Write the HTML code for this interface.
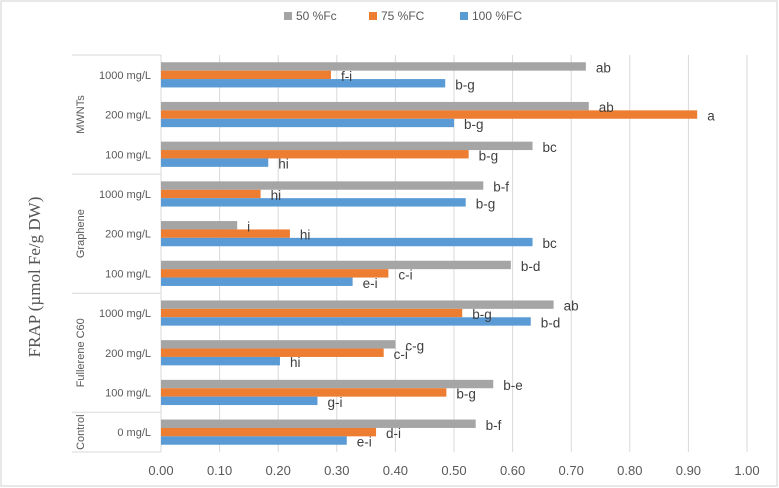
<!DOCTYPE html>
<html><head><meta charset="utf-8"><style>
body{margin:0;background:#fff}
svg{display:block;font-family:"Liberation Sans",sans-serif}
</style></head><body>
<svg id="chart" width="779" height="488">
<rect x="1" y="1" width="776" height="485" fill="#fff" stroke="#d0d0d0"/>
<text x="40" y="277" transform="rotate(-90 40 277)" text-anchor="middle" font-family="Liberation Serif,serif" font-size="17" fill="#555">FRAP (µmol Fe/g DW)</text>
<g id="legend"></g>
<g id="grid"></g><g id="cats"></g><g id="bars"></g><g id="labels"></g><g id="xticks"></g>
</svg>
<script>
const categories=["1000 mg/L","200 mg/L","100 mg/L","1000 mg/L","200 mg/L","100 mg/L","1000 mg/L","200 mg/L","100 mg/L","0 mg/L"];
const groups=["MWNTs","Graphene","Fullerene C60","Control"];
const groupSizes=[3,3,3,1];
const seriesNames=["50 %Fc","75 %FC","100 %FC"];
const s50=[0.725,0.73,0.634,0.55,0.13,0.597,0.67,0.40,0.567,0.537];
const s75=[0.29,0.915,0.525,0.17,0.22,0.388,0.514,0.38,0.487,0.367];
const s100=[0.485,0.50,0.183,0.52,0.634,0.327,0.631,0.203,0.267,0.317];
const l50=["ab","ab","bc","b-f","i","b-d","ab","c-g","b-e","b-f"];
const l75=["f-i","a","b-g","hi","hi","c-i","b-g","c-i","b-g","d-i"];
const l100=["b-g","b-g","hi","b-g","bc","e-i","b-d","hi","g-i","e-i"];
const ticks=[0,0.1,0.2,0.3,0.4,0.5,0.6,0.7,0.8,0.9,1.0];
const colors=["#a5a5a5","#ed7d31","#5b9bd5"];
const NS="http://www.w3.org/2000/svg";
const X0=161,X1=747,TOP=55,BOT=452;
const xs=v=>X0+(v/1.0)*(X1-X0);
const bandH=(BOT-TOP)/categories.length;
function mk(tag,attrs,parent,txt){const e=document.createElementNS(NS,tag);for(const k in attrs)e.setAttribute(k,attrs[k]);if(txt!==undefined)e.textContent=txt;parent.appendChild(e);return e;}
const grid=document.getElementById('grid'),xt=document.getElementById('xticks');
ticks.forEach(t=>{
 const g=mk('line',{x1:xs(t),x2:xs(t),y1:TOP,y2:BOT,stroke:'#d9d9d9','stroke-width':1},grid);
 
 
 const tx=mk('text',{x:xs(t),y:BOT+23,'text-anchor':'middle','font-size':13,fill:'#595959'},xt,t.toFixed(2));
 
 
});
const cats=document.getElementById('cats');
mk('line',{x1:72,x2:X0,y1:TOP,y2:TOP,stroke:'#d9d9d9'},cats);
mk('line',{x1:X0,x2:X0,y1:TOP,y2:BOT,stroke:'#d9d9d9'},cats);
mk('line',{x1:72,x2:X0,y1:BOT,y2:BOT,stroke:'#d9d9d9'},cats);
categories.forEach((c,i)=>{
 const t=mk('text',{x:151,y:TOP+bandH*(i+0.5)+4,'text-anchor':'end','font-size':11,fill:'#595959'},cats,c);
 
 
});
let start=0;
groups.forEach((g,gi)=>{
 const y0=TOP+start*bandH,y1=TOP+(start+groupSizes[gi])*bandH;
 mk('line',{x1:72,x2:X0,y1:y1,y2:y1,stroke:'#d9d9d9'},cats);
 const cy=(y0+y1)/2;
 const t=mk('text',{x:84,y:cy,transform:`rotate(-90 84 ${cy})`,'text-anchor':'middle','font-size':11,fill:'#595959'},cats,g);
 
 
 start+=groupSizes[gi];
});
const bars=document.getElementById('bars'),labs=document.getElementById('labels');
const series=[s50,s75,s100],slabels=[l50,l75,l100];
const bh=8.4;
categories.forEach((c,i)=>{
 const cy=TOP+bandH*(i+0.5);
 series.forEach((s,si)=>{
  const y=cy-1.5*bh+si*bh;
  const r=mk('rect',{x:X0,y:y,width:xs(s[i])-X0,height:bh,fill:colors[si]},bars);
  
  
  const t=mk('text',{x:xs(s[i])+10,y:y+bh/2+6,'font-size':13.5,fill:'#404040'},labs,slabels[si][i]);
  
  
 });
});
const leg=document.getElementById('legend');
const lx=[284,369,460];
seriesNames.forEach((n,i)=>{
 const r=mk('rect',{x:lx[i],y:12,width:8,height:8,fill:colors[i]},leg);
 
 
 const t=mk('text',{x:lx[i]+12,y:20,'font-size':12,fill:'#595959'},leg,n);
 
 
});
</script>
</body></html>
